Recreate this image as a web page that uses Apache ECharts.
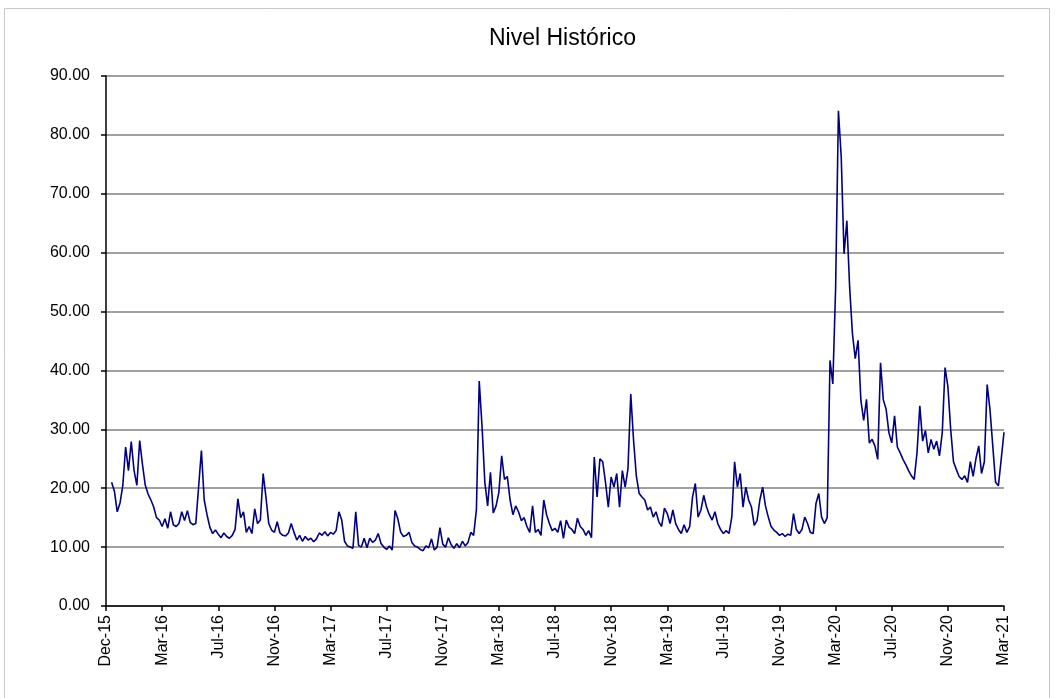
<!DOCTYPE html>
<html>
<head>
<meta charset="utf-8">
<script src="https://cdn.jsdelivr.net/npm/echarts@6/dist/echarts.min.js"></script>
<style>
html,body{margin:0;padding:0;background:#fff;}
#chart{width:1056px;height:698px;}
</style>
</head>
<body>
<div id="chart"></div>
<script>
// Tick labels shown every 20 samples along the x axis
const tickLabels = ["Dec-15","Mar-16","Jul-16","Nov-16","Mar-17","Jul-17","Nov-17","Mar-18","Jul-18","Nov-18","Mar-19","Jul-19","Nov-19","Mar-20","Jul-20","Nov-20","Mar-21"];
const samplesPerTick = 20;

const nivel = [
  null, null, 21.0, 19.5, 16.0, 17.5, 20.5, 27.0, 23.0, 27.9,   // 0
  23.0, 20.5, 28.1, 24.0, 20.5, 19.0, 18.0, 16.8, 15.0, 14.6,   // 10
  13.5, 14.8, 13.2, 16.0, 13.8, 13.5, 14.0, 16.0, 14.5, 16.2,   // 20
  14.2, 13.8, 14.0, 20.2, 26.4, 18.0, 15.5, 13.4, 12.3, 12.9,   // 30
  12.2, 11.6, 12.4, 11.8, 11.5, 12.0, 13.0, 18.2, 15.0, 16.0,   // 40
  12.5, 13.5, 12.3, 16.5, 14.0, 14.6, 22.5, 18.5, 14.0, 12.9,   // 50
  12.5, 14.3, 12.4, 12.0, 11.9, 12.4, 14.0, 12.5, 11.2, 12.0,   // 60
  11.0, 11.8, 11.2, 11.5, 10.9, 11.4, 12.4, 12.0, 12.6, 11.9,   // 70
  12.5, 12.2, 12.8, 16.0, 14.6, 11.0, 10.2, 10.0, 9.8, 16.0,    // 80
  10.3, 10.0, 11.5, 9.9, 11.5, 10.8, 11.2, 12.3, 10.6, 10.0,    // 90
  9.6, 10.2, 9.5, 16.2, 14.8, 12.5, 11.8, 12.0, 12.5, 10.8,     // 100
  10.2, 10.0, 9.6, 9.4, 10.2, 9.9, 11.4, 9.5, 10.0, 13.3,       // 110
  10.5, 10.0, 11.6, 10.4, 9.8, 10.6, 9.9, 11.0, 10.2, 10.8,     // 120
  12.5, 12.0, 16.4, 38.2, 30.5, 21.0, 17.0, 22.7, 15.8, 17.0,   // 130
  19.3, 25.5, 21.5, 22.0, 18.0, 15.5, 17.0, 16.0, 14.5, 15.0,   // 140
  13.5, 12.5, 17.0, 12.5, 13.0, 12.0, 18.0, 15.5, 14.0, 12.8,   // 150
  13.2, 12.5, 14.5, 11.5, 14.6, 13.4, 13.0, 12.3, 14.9, 13.5,   // 160
  13.0, 12.0, 12.8, 11.6, 25.3, 18.5, 25.0, 24.5, 21.0, 16.8,   // 170
  21.9, 20.2, 22.5, 16.8, 23.0, 20.2, 23.3, 36.0, 28.1, 22.0,   // 180
  19.1, 18.5, 18.0, 16.3, 16.8, 15.1, 16.0, 14.3, 13.5, 16.6,   // 190
  15.7, 14.0, 16.3, 14.0, 13.0, 12.3, 13.8, 12.5, 13.5, 18.5,   // 200
  20.8, 15.1, 16.3, 18.8, 16.8, 15.5, 14.6, 16.0, 14.0, 13.0,   // 210
  12.3, 12.8, 12.3, 15.1, 24.5, 20.2, 22.5, 16.8, 20.2, 18.0,   // 220
  16.8, 13.7, 14.5, 18.0, 20.2, 17.0, 15.1, 13.5, 12.9, 12.5,   // 230
  12.0, 12.3, 11.8, 12.2, 12.0, 15.7, 13.0, 12.3, 13.0, 15.1,   // 240
  14.0, 12.5, 12.3, 17.4, 19.1, 15.1, 14.0, 15.0, 41.7, 37.7,   // 250
  54.1, 84.1, 76.2, 59.8, 65.4, 54.1, 46.2, 42.0, 45.1, 34.9,   // 260
  31.5, 35.1, 27.7, 28.3, 27.2, 24.9, 41.3, 35.0, 33.4, 29.4,   // 270
  27.7, 32.3, 27.0, 26.0, 24.9, 24.0, 23.0, 22.1, 21.5, 26.0,   // 280
  34.0, 28.0, 29.8, 26.0, 28.3, 26.6, 28.0, 25.5, 29.4, 40.5,   // 290
  37.3, 30.0, 24.5, 23.2, 22.0, 21.5, 22.1, 21.0, 24.5, 22.0,   // 300
  25.0, 27.2, 22.5, 24.5, 37.6, 33.4, 27.2, 21.0, 20.4, 24.9,   // 310
  29.5                                                          // 320
];

const categories = nivel.map((v, i) => String(i));

const chart = echarts.init(document.getElementById('chart'), null, {renderer: 'canvas'});
const font = 'Liberation Sans, Arial, sans-serif';

chart.setOption({
  animation: false,
  backgroundColor: '#ffffff',
  graphic: [{
    type: 'rect',
    shape: {x: 4.5, y: 8.5, width: 1045, height: 700},
    style: {fill: 'none', stroke: '#c8c8c8', lineWidth: 1},
    silent: true
  }],
  title: {
    text: 'Nivel Histórico',
    left: 484,
    top: 22,
    textStyle: {fontFamily: font, fontSize: 23, fontWeight: 'normal', color: '#000'}
  },
  grid: {left: 106, right: 52, top: 76, bottom: 92, containLabel: false},
  xAxis: {
    type: 'category',
    data: categories,
    boundaryGap: false,
    axisLine: {lineStyle: {color: '#000', width: 1.5}},
    axisTick: {show: true, interval: samplesPerTick - 1, length: 5, lineStyle: {color: '#000', width: 1.5}},
    axisLabel: {
      interval: samplesPerTick - 1,
      rotate: 90,
      margin: 9,
      fontFamily: font,
      fontSize: 16,
      color: '#000',
      formatter: function (v, idx) {
        const k = Math.round(idx / samplesPerTick);
        return tickLabels[k] || '';
      }
    },
    splitLine: {show: false}
  },
  yAxis: {
    type: 'value',
    min: 0,
    max: 90,
    interval: 10,
    axisLine: {show: true, lineStyle: {color: '#000', width: 1.5}},
    axisTick: {show: true, length: 5, lineStyle: {color: '#000', width: 1.5}},
    axisLabel: {
      margin: 16,
      fontFamily: font,
      fontSize: 16,
      color: '#000',
      formatter: v => v.toFixed(2)
    },
    splitLine: {show: true, lineStyle: {color: '#a0a0a0', width: 2}}
  },
  series: [{
    type: 'line',
    data: nivel,
    showSymbol: false,
    connectNulls: false,
    lineStyle: {color: '#000080', width: 1.6},
    itemStyle: {color: '#000080'}
  }]
});
</script>
</body>
</html>
